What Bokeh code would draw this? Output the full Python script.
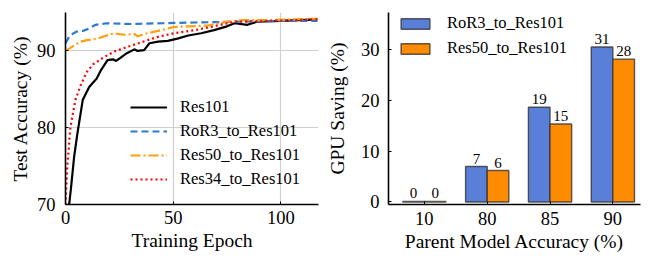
from bokeh.plotting import figure
from bokeh.layouts import row
from bokeh.models import Legend, LegendItem, FixedTicker, ColumnDataSource, Range1d
from bokeh.embed import file_html
from bokeh.resources import INLINE

# ---------------- data: left chart ----------------
ep_res101 = [1.5, 2.5, 4, 5.5, 8, 11, 14.5, 16.5, 19.5, 22, 23.5, 25.5, 28.5, 32, 33.5, 36.5, 39, 43, 47.5, 52, 57, 63, 69, 75, 78.5, 84.5, 89, 100, 117]
acc_res101 = [69.5, 72.0, 76.2, 79.2, 83.6, 85.3, 86.4, 87.5, 88.8, 88.9, 88.7, 89.1, 89.7, 90.2, 90.0, 90.1, 91.0, 91.2, 91.3, 91.6, 92.0, 92.3, 92.7, 93.2, 93.6, 93.4, 93.8, 93.9, 94.1]

ep_ror3 = [0, 2, 5, 8, 10, 14, 19, 30, 45, 60, 80, 100, 117]
acc_ror3 = [91.0, 92.0, 92.5, 92.6, 92.8, 93.4, 93.6, 93.5, 93.6, 93.7, 93.8, 93.9, 93.9]

ep_res50 = [0, 4, 7, 10, 15, 18, 22.5, 27, 32, 33.5, 38, 43, 50, 57, 66, 75, 82, 94, 105, 117]
acc_res50 = [90.0, 90.7, 91.2, 91.4, 91.6, 91.9, 92.3, 92.1, 92.2, 91.9, 92.3, 92.6, 93.1, 93.2, 93.3, 93.8, 94.0, 94.0, 94.1, 94.2]

ep_res34 = [0, 0.8, 2.3, 4.6, 7, 10, 13, 18, 22.5, 28.5, 35, 42.5, 50.5, 60, 69, 78.5, 94, 117]
acc_res34 = [70.0, 74.9, 80.1, 83.6, 85.5, 87.3, 88.3, 89.2, 89.9, 90.5, 91.1, 91.8, 92.3, 92.7, 93.2, 93.8, 93.9, 94.1]

line_names = ["Res101", "RoR3_to_Res101", "Res50_to_Res101", "Res34_to_Res101"]

# ---------------- data: right chart ----------------
parent_acc = ["10", "80", "85", "90"]
saving_ror3 = [0.1, 7.0, 18.7, 30.6]
saving_res50 = [0.1, 6.2, 15.4, 28.2]
label_ror3 = ["0", "7", "19", "31"]
label_res50 = ["0", "6", "15", "28"]
bar_names = ["RoR3_to_Res101", "Res50_to_Res101"]

FONT = "'Liberation Serif', 'Times New Roman', serif"


def style_axes(p, xstand, ystand, ylstand, xlstand):
    for ax in (p.xaxis, p.yaxis):
        ax.axis_line_color = "black"
        ax.axis_line_width = 1.6
        ax.major_label_text_font = FONT
        ax.major_label_text_font_size = "18.5px"
        ax.major_label_text_color = "black"
        ax.axis_label_text_font = FONT
        ax.axis_label_text_font_size = "19.5px"
        ax.axis_label_text_font_style = "normal"
        ax.axis_label_text_color = "black"
        ax.minor_tick_line_color = None
        ax.major_tick_in = 3
        ax.major_tick_out = 0
        ax.major_tick_line_color = "black"
    p.xaxis.major_label_standoff = xstand
    p.xaxis.axis_label_standoff = xlstand
    p.yaxis.major_label_standoff = ystand
    p.yaxis.axis_label_standoff = ylstand
    p.outline_line_color = None


# ---------------- left figure ----------------
p1 = figure(width=323, height=256, output_backend="svg", toolbar_location=None,
            x_range=Range1d(0, 117.5), y_range=Range1d(70, 95),
            min_border_left=65, min_border_right=5, min_border_top=12, min_border_bottom=52)
style_axes(p1, 6, 10, 3, 3)
p1.xaxis.ticker = FixedTicker(ticks=[0, 50, 100])
p1.yaxis.ticker = FixedTicker(ticks=[70, 80, 90])
p1.xaxis.axis_label = "Training Epoch"
p1.yaxis.axis_label = "Test Accuracy (%)"
p1.grid.grid_line_color = "#cfcfcf"
p1.grid.grid_line_width = 1.2

r1 = p1.line(ep_res101, acc_res101, line_color="black", line_width=2.2)
r2 = p1.line(ep_ror3, acc_ror3, line_color="#2a7ad3", line_width=2.2, line_dash="7 4")
r3 = p1.line(ep_res50, acc_res50, line_color="#ffa010", line_width=2.2, line_dash="10 3 2 3")
r4 = p1.line(ep_res34, acc_res34, line_color="#ff0000", line_width=2.2, line_dash="2 3")

leg1 = Legend(items=[LegendItem(label=n, renderers=[r]) for n, r in zip(line_names, [r1, r2, r3, r4])],
              location=(65, 15), padding=0, margin=0, spacing=4,
              glyph_width=37, glyph_height=20, label_standoff=13,
              label_text_font=FONT, label_text_font_size="16.5px", label_text_color="black",
              border_line_alpha=0, background_fill_alpha=0)
p1.add_layout(leg1)

# ---------------- right figure ----------------
xpos = [0, 1, 2, 3]
src = ColumnDataSource(dict(
    x_b=[x - 0.172 for x in xpos], x_o=[x + 0.172 for x in xpos],
    ror3=saving_ror3, res50=saving_res50, lab_b=label_ror3, lab_o=label_res50))

p2 = figure(width=326, height=256, output_backend="svg", toolbar_location=None,
            x_range=Range1d(-0.571, 3.44), y_range=Range1d(-0.5, 37.4),
            min_border_left=64, min_border_right=9, min_border_top=5, min_border_bottom=51)
style_axes(p2, 7, 9, 10, 3)
p2.grid.grid_line_color = None
p2.xaxis.ticker = FixedTicker(ticks=xpos)
p2.xaxis.major_label_overrides = {x: c for x, c in zip(xpos, parent_acc)}
p2.yaxis.ticker = FixedTicker(ticks=[0, 10, 20, 30])
p2.xaxis.axis_label = "Parent Model Accuracy (%)"
p2.yaxis.axis_label = "GPU Saving (%)"

b1 = p2.vbar(x="x_b", top="ror3", bottom=0, width=0.344, source=src,
             fill_color="#5a7fd8", line_color="#333333", line_width=1.4, line_alpha=0.8)
b2 = p2.vbar(x="x_o", top="res50", bottom=0, width=0.344, source=src,
             fill_color="#ff8c00", line_color="#333333", line_width=1.4, line_alpha=0.8)
p2.text(x="x_b", y="ror3", text="lab_b", source=src, text_align="center", text_baseline="bottom",
        y_offset=-3, text_font=FONT, text_font_size="15px", text_color="black")
p2.text(x="x_o", y="res50", text="lab_o", source=src, text_align="center", text_baseline="bottom",
        y_offset=-3, text_font=FONT, text_font_size="15px", text_color="black")

leg2 = Legend(items=[LegendItem(label=n, renderers=[r]) for n, r in zip(bar_names, [b1, b2])],
              location=(9, 146), padding=0, margin=0, spacing=5,
              glyph_width=36, glyph_height=13, label_standoff=14,
              label_text_font=FONT, label_text_font_size="16.5px", label_text_color="black",
              border_line_alpha=0, background_fill_alpha=0)
p2.add_layout(leg2)

layout = row(p1, p2)
open("out.html", "w").write(file_html(layout, INLINE))
